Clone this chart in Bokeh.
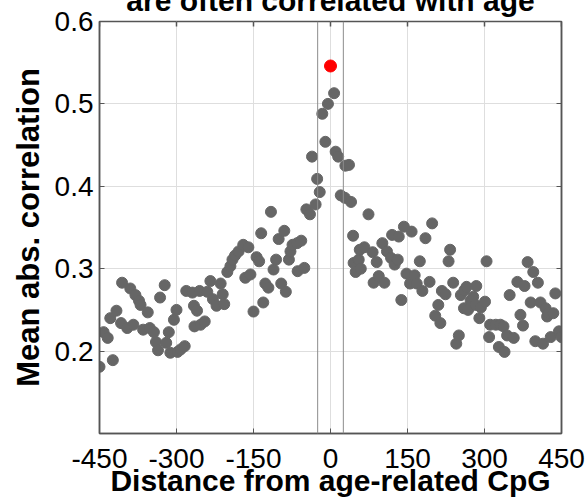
from bokeh.plotting import figure
from bokeh.models import Range1d, FixedTicker, LinearAxis, Span, CustomJSTickFormatter, ColumnDataSource
from bokeh.embed import file_html
from bokeh.resources import INLINE

# ---- data ----
distance = [-450, -442, -434, -429, -424, -417, -408, -406, -396, -390, -384, -380, -373, -370,
            -365, -356, -352, -344, -340, -336, -332, -323, -320, -315, -312, -305, -300, -298,
            -292, -284, -281, -269, -266, -265, -260, -255, -253, -245, -240, -234, -229, -222,
            -214, -210, -207, -201, -195, -191, -186, -179, -170, -166, -160, -156, -150, -144,
            -139, -135, -131, -127, -121, -116, -111, -106, -101, -96, -90, -87, -81, -78, -74,
            -65, -64, -57, -51, -47, -40, -36, -29, -26, -21, -16, -10, -5,
            7, 10, 15, 20, 28, 29, 36, 40, 44, 45, 49, 55, 57, 59, 66, 74, 82, 84, 90, 94, 101,
            105, 110, 118, 120, 125, 131, 133, 138, 143, 148, 155, 158, 164, 168, 174, 179, 185,
            193, 198, 204, 210, 214, 217, 224, 230, 233, 239, 245, 250, 254, 260, 261, 265, 268,
            273, 278, 283, 284, 290, 293, 301, 304, 309, 311, 322, 328, 331, 337, 339, 344, 349,
            357, 364, 370, 375, 378, 384, 390, 395, 399, 404, 409, 414, 419, 422, 425, 429, 434,
            438, 445, 450]
mean_abs_corr = [0.181, 0.223, 0.216, 0.240, 0.189, 0.249, 0.234, 0.283, 0.228, 0.276, 0.232, 0.268,
                 0.261, 0.256, 0.226, 0.247, 0.228, 0.223, 0.211, 0.201, 0.265, 0.280, 0.210, 0.223,
                 0.198, 0.238, 0.250, 0.199, 0.202, 0.206, 0.273, 0.271, 0.255, 0.230, 0.249, 0.273,
                 0.232, 0.236, 0.272, 0.285, 0.263, 0.255, 0.282, 0.269, 0.257, 0.296, 0.303, 0.311,
                 0.316, 0.321, 0.329, 0.289, 0.326, 0.293, 0.248, 0.314, 0.309, 0.343, 0.259, 0.282,
                 0.277, 0.369, 0.299, 0.311, 0.336, 0.282, 0.346, 0.272, 0.311, 0.321, 0.329, 0.331,
                 0.297, 0.334, 0.301, 0.372, 0.366, 0.436, 0.378, 0.409, 0.393, 0.488, 0.454, 0.500,
                 0.513, 0.442, 0.436, 0.389, 0.386, 0.425, 0.426, 0.381, 0.340, 0.307, 0.296, 0.311,
                 0.323, 0.300, 0.326, 0.366, 0.320, 0.283, 0.308, 0.291, 0.331, 0.283, 0.321, 0.313,
                 0.341, 0.305, 0.311, 0.339, 0.262, 0.351, 0.294, 0.282, 0.345, 0.292, 0.282, 0.309,
                 0.273, 0.337, 0.284, 0.355, 0.243, 0.256, 0.234, 0.273, 0.269, 0.309, 0.323, 0.283,
                 0.209, 0.219, 0.268, 0.252, 0.274, 0.278, 0.250, 0.261, 0.266, 0.256, 0.279, 0.240,
                 0.253, 0.260, 0.309, 0.217, 0.232, 0.232, 0.205, 0.232, 0.230, 0.199, 0.219, 0.268,
                 0.216, 0.284, 0.244, 0.231, 0.279, 0.308, 0.259, 0.296, 0.212, 0.283, 0.259, 0.209,
                 0.252, 0.242, 0.246, 0.217, 0.246, 0.270, 0.224, 0.217]
center_distance = [0]
center_corr = [0.546]
window_edges = [-25, 25]
x_ticks = [-450, -300, -150, 0, 150, 300, 450]
x_tick_labels = ["-450", "-300", "-150", "0", "150", "300", "450"]
y_ticks = [0.2, 0.3, 0.4, 0.5, 0.6]
y_min, y_max = 0.1, 0.6
x_min, x_max = -450, 450
title_text = "are often correlated with age"

FONT = "Liberation Sans"
AXC = "#555555"
SHIFT = 23  # the top of the title is cut off in the reference

p = figure(width=588, height=501 + SHIFT, output_backend="svg", toolbar_location=None,
           title=title_text,
           x_range=Range1d(x_min, x_max), y_range=Range1d(y_min, y_max),
           min_border_left=99, min_border_right=27, min_border_top=0, min_border_bottom=68)
p.styles = {"margin-top": f"-{SHIFT}px"}
p.background_fill_color = "white"
p.border_fill_color = "white"
p.outline_line_color = AXC
p.outline_line_width = 1.5

p.title.align = "center"
p.title.text_font = FONT
p.title.text_font_size = "30px"
p.title.text_font_style = "bold"
p.title.text_color = "black"
p.title.standoff = 9

for ax in (p.xaxis[0], p.yaxis[0]):
    ax.major_label_text_font = FONT
    ax.major_label_text_font_size = "28px"
    ax.major_label_text_color = "black"
    ax.axis_label_text_font = FONT
    ax.axis_label_text_font_style = "bold"
    ax.axis_label_text_color = "black"
    ax.axis_line_color = AXC
    ax.axis_line_width = 1.5
    ax.major_tick_line_color = AXC
    ax.major_tick_in = 5
    ax.major_tick_out = 0
    ax.minor_tick_line_color = None

p.xaxis[0].ticker = FixedTicker(ticks=x_ticks)
p.xaxis[0].major_label_overrides = {t: s for t, s in zip(x_ticks, x_tick_labels)}
p.yaxis[0].ticker = FixedTicker(ticks=y_ticks)
p.xaxis[0].axis_label = "Distance from age-related CpG"
p.yaxis[0].axis_label = "Mean abs. correlation"
p.xaxis[0].axis_label_text_font_size = "30px"
p.yaxis[0].axis_label_text_font_size = "31px"
p.xaxis[0].major_label_standoff = 15
p.xaxis[0].axis_label_standoff = -7
p.yaxis[0].major_label_standoff = 6
p.yaxis[0].axis_label_standoff = 6

blank = CustomJSTickFormatter(code="return ''")
right_ax = LinearAxis(ticker=FixedTicker(ticks=y_ticks), formatter=blank,
                      major_tick_in=5, major_tick_out=0, minor_tick_line_color=None,
                      axis_line_color=AXC, axis_line_width=1.5,
                      major_tick_line_color=AXC, major_label_standoff=0)
p.add_layout(right_ax, "right")

p.xgrid.ticker = FixedTicker(ticks=x_ticks)
p.ygrid.ticker = FixedTicker(ticks=y_ticks)
p.xgrid.grid_line_color = "#dedede"
p.ygrid.grid_line_color = "#dedede"
p.xgrid.grid_line_width = 1
p.ygrid.grid_line_width = 1

for loc in window_edges:
    p.add_layout(Span(location=loc, dimension="height", line_color="#8c8c8c", line_width=1))

# inward tick marks along the top edge of the box
tick_len = (y_max - y_min) * 5 / 412
p.segment(x0=x_ticks, y0=[y_max] * len(x_ticks), x1=x_ticks, y1=[y_max - tick_len] * len(x_ticks),
          line_color=AXC, line_width=1.5)

src = ColumnDataSource(dict(x=distance, y=mean_abs_corr))
p.scatter("x", "y", source=src, size=11, fill_color="#666666", line_color="#666666")
p.scatter(center_distance, center_corr, size=12, fill_color="#ff0000", line_color="#ff0000")

open("out.html", "w").write(file_html(p, INLINE))
